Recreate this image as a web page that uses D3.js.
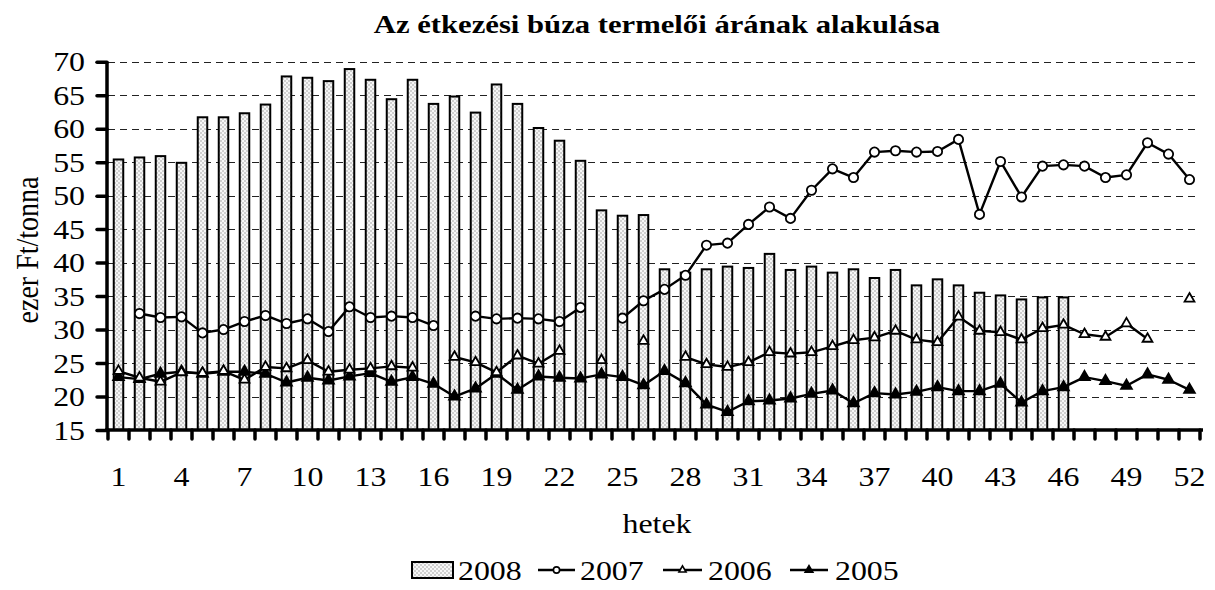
<!DOCTYPE html>
<html><head><meta charset="utf-8">
<script src="https://cdn.jsdelivr.net/npm/d3@7"></script>
<style>html,body{margin:0;padding:0;background:#fff;}svg{display:block;}</style>
</head><body>
<svg id="c" width="1215" height="590"></svg>
<script>
const weeks = d3.range(1, 53);
const tickLabels = [1,4,7,10,13,16,19,22,25,28,31,34,37,40,43,46,49,52];
const yTicks = [15,20,25,30,35,40,45,50,55,60,65,70];
const seriesNames = ["2008","2007","2006","2005"];
const v2008 = [55.4,55.7,55.9,54.9,61.7,61.7,62.3,63.6,67.8,67.6,67.1,68.9,67.3,64.4,67.3,63.7,64.8,62.4,66.6,63.7,60.1,58.2,55.2,47.8,47.0,47.1,39.0,38.5,39.0,39.4,39.2,41.3,38.9,39.4,38.5,39.0,37.7,38.9,36.6,37.5,36.6,35.5,35.1,34.5,34.8,34.8,null,null,null,null,null,null];
const v2007 = [null,32.4,31.8,31.9,29.5,30.0,31.2,32.1,30.9,31.6,29.7,33.4,31.8,32.0,31.8,30.6,null,32.0,31.6,31.7,31.6,31.2,33.3,null,31.7,34.3,36.0,38.1,42.6,42.9,45.7,48.3,46.6,50.8,54.0,52.7,56.5,56.7,56.5,56.6,58.4,47.2,55.1,49.8,54.4,54.6,54.4,52.7,53.1,57.9,56.2,52.4];
const v2006 = [23.8,22.8,22.2,23.6,23.5,23.8,22.5,24.4,24.2,25.4,23.7,24.0,24.2,24.5,24.3,null,25.9,25.1,23.6,26.1,24.9,26.8,null,25.4,null,28.3,null,25.9,24.8,24.4,25.1,26.6,26.4,26.6,27.5,28.4,28.8,29.8,28.5,28.1,31.9,29.8,29.6,28.5,30.2,30.7,29.3,28.9,30.9,28.6,null,34.6];
const v2005 = [22.9,22.6,23.4,23.7,23.4,23.7,23.7,23.4,22.1,22.8,22.4,23.0,23.5,22.2,22.9,21.9,20.0,21.2,23.4,21.0,23.0,22.8,22.7,23.3,22.9,21.7,23.8,22.0,18.8,17.7,19.3,19.4,19.7,20.4,20.9,19.0,20.5,20.3,20.7,21.4,20.8,20.8,21.9,19.1,20.8,21.4,22.9,22.3,21.6,23.3,22.5,21.0];

const FONT = "'Liberation Serif','Times New Roman',serif";
const SX = 1.18; // horizontal text stretch seen in the reference
const svg = d3.select("#c");
const defs = svg.append("defs");
const pat = defs.append("pattern").attr("id","dots").attr("patternUnits","userSpaceOnUse").attr("width",4).attr("height",4);
pat.append("rect").attr("width",4).attr("height",4).attr("fill","#f6f6f6");
pat.append("circle").attr("cx",1).attr("cy",1).attr("r",0.7).attr("fill","#8a8a8a");
pat.append("circle").attr("cx",3).attr("cy",3).attr("r",0.7).attr("fill","#8a8a8a");

const x = d3.scaleBand().domain(weeks).range([108,1200]).paddingInner(0).paddingOuter(0);
const y = d3.scaleLinear().domain([15,70]).range([430,61.7]);
const cx = w => x(w) + x.bandwidth()/2;

function txt(g, tx, ty, s, opts={}) {
  const t = g.append("text").attr("transform", `translate(${tx},${ty}) scale(${SX},1)`)
    .attr("font-family", FONT).attr("font-size", opts.size || 27).attr("fill","#000")
    .attr("text-anchor", opts.anchor || "start").text(s);
  if (opts.bold) t.attr("font-weight","bold");
  return t;
}

// gridlines
svg.append("g").selectAll("line").data(yTicks.filter(t => t > 15)).join("line")
  .attr("x1",108).attr("x2",1200).attr("y1",d=>Math.round(y(d))+0.5).attr("y2",d=>Math.round(y(d))+0.5)
  .attr("stroke","#222").attr("stroke-width",1.2).attr("stroke-dasharray","7,5");

// bars 2008
const barW = 9.5;
svg.append("g").selectAll("rect").data(weeks.map((w,i)=>({w, v:v2008[i]})).filter(d=>d.v!=null)).join("rect")
  .attr("x", d=>cx(d.w)-barW/2).attr("width", barW)
  .attr("y", d=>y(d.v)).attr("height", d=>y(15)-y(d.v))
  .attr("fill","url(#dots)").attr("stroke","#000").attr("stroke-width",2);

// lines
const line = d3.line().defined(d=>d.v!=null).x(d=>cx(d.w)).y(d=>y(d.v));
function series(vals, sym, size, fill) {
  const data = weeks.map((w,i)=>({w, v:vals[i]}));
  const g = svg.append("g");
  g.append("path").datum(data).attr("d", line).attr("fill","none").attr("stroke","#000").attr("stroke-width",2.4).attr("stroke-linejoin","round");
  g.selectAll("path.m").data(data.filter(d=>d.v!=null)).join("path").attr("class","m")
    .attr("transform", d=>`translate(${cx(d.w)},${y(d.v)})`)
    .attr("d", d3.symbol().type(sym).size(size))
    .attr("fill", fill).attr("stroke","#000").attr("stroke-width",1.8);
}
series(v2005, d3.symbolTriangle, 50, "#000");
series(v2006, d3.symbolTriangle, 42, "#fff");
series(v2007, d3.symbolCircle, 68, "#fff");

// axes
const yAxis = svg.append("g").attr("transform","translate(107,0)")
  .call(d3.axisLeft(y).tickValues(yTicks).tickSize(10).tickFormat(""));
yAxis.select(".domain").attr("stroke","#000").attr("stroke-width",3.5).attr("d",`M0,${y(70)}V${y(15)}`);
yAxis.selectAll(".tick line").attr("stroke","#000").attr("stroke-width",3.5).attr("stroke-linecap","round");
const yl = svg.append("g");
yTicks.forEach(t => txt(yl, 85, y(t)+9.5, t, {anchor:"end"}));

const xAxis = svg.append("g").attr("transform","translate(0,430)");
xAxis.append("line").attr("x1",105).attr("x2",1203).attr("y1",0).attr("y2",0).attr("stroke","#000").attr("stroke-width",3.5);
xAxis.selectAll("line.t").data(d3.range(0,53)).join("line").attr("class","t")
  .attr("x1",d=>x.range()[0]+d*x.step()).attr("x2",d=>x.range()[0]+d*x.step())
  .attr("y1",0).attr("y2",9).attr("stroke","#000").attr("stroke-width",3.5).attr("stroke-linecap","round");
tickLabels.forEach(t => txt(xAxis, cx(t), 56, t, {anchor:"middle"}));

// titles
txt(svg, 657, 33, "Az étkezési búza termelői árának alakulása", {anchor:"middle", bold:true, size:26});
svg.append("text").attr("transform","translate(38,250) rotate(-90) scale(1,1.1)").attr("text-anchor","middle")
  .attr("font-family",FONT).attr("font-size",28).text("ezer Ft/tonna");
txt(svg, 657, 533, "hetek", {anchor:"middle"});

// legend
const lg = svg.append("g");
const ly = 570;
lg.append("rect").attr("x",412).attr("y",ly-8).attr("width",41).attr("height",16).attr("fill","url(#dots)").attr("stroke","#000").attr("stroke-width",2);
txt(lg, 458, ly+9.5, seriesNames[0]);
const items = [
  {x1:538,x2:575,tx:580,name:seriesNames[1],sym:d3.symbolCircle,size:30,fill:"#fff"},
  {x1:663,x2:702,tx:708,name:seriesNames[2],sym:d3.symbolTriangle,size:22,fill:"#fff"},
  {x1:790,x2:828,tx:835,name:seriesNames[3],sym:d3.symbolTriangle,size:26,fill:"#000"}
];
items.forEach(it=>{
  lg.append("line").attr("x1",it.x1).attr("x2",it.x2).attr("y1",ly).attr("y2",ly).attr("stroke","#000").attr("stroke-width",2.4);
  lg.append("path").attr("transform",`translate(${(it.x1+it.x2)/2},${ly})`).attr("d",d3.symbol().type(it.sym).size(it.size)).attr("fill",it.fill).attr("stroke","#000").attr("stroke-width",1.6);
  txt(lg, it.tx, ly+9.5, it.name);
});
</script>
</body></html>
